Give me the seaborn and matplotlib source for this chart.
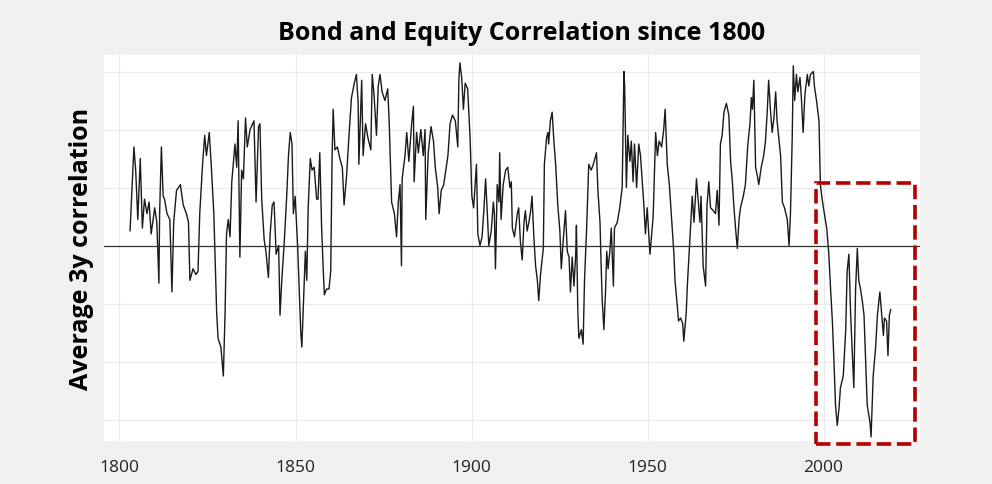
import numpy as np
import matplotlib
matplotlib.use("Agg")
import matplotlib.pyplot as plt
import matplotlib.patches as mpatches
import pandas as pd
import seaborn as sns

# values (3y rolling bond/equity correlation)
years = [
    1803.0, 1804.1, 1804.6, 1805.2, 1805.9, 1806.5, 1807.1, 1807.8, 1808.4, 1809.0,
    1810.0, 1810.6, 1811.2, 1811.4, 1811.9, 1812.4, 1812.8, 1813.5, 1814.3, 1814.9,
    1815.4, 1816.2, 1817.3, 1818.1, 1819.0, 1819.6, 1820.0, 1820.9, 1821.7, 1822.3,
    1822.8, 1823.6, 1824.2, 1824.7, 1825.5, 1826.1, 1826.8, 1827.6, 1828.0, 1828.8,
    1829.5, 1830.0, 1830.4, 1830.9, 1831.4, 1831.9, 1832.8, 1833.3, 1833.7, 1834.2,
    1834.7, 1835.2, 1835.8, 1836.3, 1837.1, 1838.2, 1838.8, 1839.5, 1839.9, 1840.4,
    1841.1, 1841.6, 1842.3, 1842.8, 1843.4, 1843.9, 1844.5, 1845.2, 1845.6, 1846.1,
    1846.8, 1847.5, 1848.0, 1848.5, 1849.0, 1849.4, 1849.9, 1850.6, 1851.1, 1851.5,
    1851.8, 1852.3, 1852.8, 1853.2, 1853.6, 1854.2, 1854.7, 1855.3, 1856.0, 1856.4,
    1856.9, 1857.4, 1857.9, 1858.2, 1858.8, 1859.5, 1860.0, 1860.4, 1860.7, 1861.2,
    1861.9, 1862.6, 1863.3, 1863.8, 1864.5, 1865.2, 1865.9, 1866.7, 1867.3, 1867.8,
    1868.0, 1868.8, 1869.2, 1869.9, 1870.6, 1871.4, 1871.8, 1872.3, 1873.0, 1873.5,
    1874.0, 1874.6, 1875.4, 1876.2, 1876.6, 1877.3, 1878.1, 1878.7, 1879.2, 1879.7,
    1880.1, 1880.3, 1881.1, 1881.6, 1882.2, 1883.0, 1883.5, 1883.7, 1884.4, 1884.9,
    1885.6, 1886.3, 1886.8, 1887.0, 1887.7, 1888.5, 1889.2, 1889.7, 1890.4, 1890.8,
    1891.4, 1892.1, 1892.7, 1893.3, 1893.9, 1894.6, 1895.4, 1896.1, 1896.4, 1896.7,
    1897.2, 1897.7, 1898.2, 1898.9, 1899.6, 1900.1, 1900.6, 1901.4, 1901.8, 1902.4,
    1903.0, 1903.5, 1904.0, 1904.5, 1904.9, 1905.6, 1906.2, 1906.5, 1906.8, 1907.3,
    1907.8, 1908.0, 1908.4, 1909.0, 1909.7, 1910.3, 1910.9, 1911.3, 1911.6, 1912.2,
    1913.0, 1913.4, 1913.9, 1914.4, 1914.9, 1915.3, 1915.8, 1916.3, 1916.8, 1917.2,
    1917.7, 1918.2, 1918.7, 1919.1, 1919.6, 1920.4, 1920.7, 1921.3, 1921.7, 1921.9,
    1922.4, 1922.9, 1923.4, 1923.9, 1924.5, 1925.1, 1925.5, 1926.0, 1926.7, 1927.2,
    1927.7, 1928.1, 1928.6, 1929.1, 1929.6, 1929.8, 1930.2, 1930.5, 1931.2, 1931.7,
    1932.1, 1932.7, 1933.3, 1934.0, 1934.6, 1935.5, 1935.9, 1936.5, 1936.8, 1937.1,
    1937.6, 1938.1, 1938.4, 1938.8, 1939.3, 1939.7, 1940.3, 1940.6, 1941.4, 1942.1,
    1942.8, 1943.3, 1943.5, 1944.0, 1944.4, 1945.0, 1945.4, 1945.9, 1946.3, 1946.9,
    1947.5, 1948.0, 1948.5, 1948.9, 1949.4, 1949.9, 1950.7, 1951.6, 1952.3, 1952.8,
    1953.3, 1954.0, 1954.6, 1955.0, 1955.6, 1956.2, 1956.9, 1957.5, 1957.8, 1958.4,
    1958.8, 1959.4, 1960.0, 1960.3, 1961.0, 1961.3, 1962.1, 1962.7, 1963.2, 1963.9,
    1964.3, 1964.9, 1965.2, 1965.8, 1966.5, 1966.9, 1967.4, 1967.9, 1968.7, 1969.3,
    1969.8, 1970.3, 1970.7, 1971.2, 1971.7, 1972.4, 1973.1, 1973.6, 1974.1, 1974.5,
    1975.0, 1975.5, 1976.0, 1976.4, 1977.2, 1977.8, 1978.5, 1979.1, 1979.5, 1979.8,
    1980.2, 1980.7, 1981.2, 1981.6, 1982.3, 1983.0, 1983.5, 1984.0, 1984.4, 1984.9,
    1985.4, 1985.9, 1986.4, 1986.8, 1987.3, 1987.8, 1988.3, 1988.9, 1989.7, 1990.2,
    1990.6, 1991.1, 1991.4, 1991.8, 1992.3, 1992.7, 1993.3, 1993.7, 1994.2, 1994.7,
    1995.4, 1995.8, 1996.3, 1997.1, 1997.4, 1998.0, 1998.7, 1999.1, 1999.6, 2000.1,
    2000.9, 2001.5, 2002.0, 2002.5, 2002.9, 2003.4, 2003.9, 2004.4, 2004.8, 2005.6,
    2006.3, 2006.7, 2007.2, 2007.7, 2008.1, 2008.6, 2009.1, 2009.6, 2010.0, 2010.5,
    2011.0, 2011.5, 2011.9, 2012.4, 2013.2, 2013.5, 2014.1, 2014.8, 2015.3, 2016.0,
    2016.4, 2017.0, 2017.3, 2017.9, 2018.3, 2018.7, 2019.1,
]
corr = [
    0.05, 0.34, 0.26, 0.09, 0.30, 0.06, 0.16, 0.11, 0.15, 0.04,
    0.13, 0.08, -0.13, 0.11, 0.34, 0.17, 0.16, 0.11, 0.09, -0.16,
    0.08, 0.19, 0.21, 0.14, 0.11, 0.08, -0.12, -0.08, -0.10, -0.09,
    0.11, 0.28, 0.38, 0.31, 0.39, 0.27, 0.11, -0.23, -0.32, -0.35,
    -0.45, -0.23, 0.04, 0.09, 0.03, 0.22, 0.35, 0.27, 0.43, -0.04,
    0.26, 0.23, 0.44, 0.34, 0.40, 0.43, 0.15, 0.41, 0.42, 0.16,
    0.02, -0.02, -0.11, 0.04, 0.14, 0.15, -0.03, 0.00, -0.24, -0.12,
    0.01, 0.17, 0.31, 0.39, 0.35, 0.11, 0.17, 0.00, -0.17, -0.30,
    -0.35, -0.18, -0.02, -0.12, 0.13, 0.30, 0.26, 0.27, 0.16, 0.16,
    0.32, 0.07, -0.09, -0.17, -0.15, -0.15, -0.09, 0.31, 0.47, 0.33,
    0.34, 0.30, 0.27, 0.14, 0.24, 0.38, 0.51, 0.56, 0.59, 0.49,
    0.28, 0.57, 0.31, 0.42, 0.37, 0.33, 0.59, 0.52, 0.38, 0.55,
    0.59, 0.53, 0.50, 0.54, 0.43, 0.15, 0.11, 0.03, 0.15, 0.21,
    -0.07, 0.23, 0.31, 0.39, 0.29, 0.42, 0.48, 0.22, 0.39, 0.32,
    0.40, 0.31, 0.40, 0.09, 0.32, 0.41, 0.36, 0.27, 0.20, 0.11,
    0.19, 0.21, 0.26, 0.31, 0.42, 0.45, 0.43, 0.34, 0.57, 0.63,
    0.58, 0.47, 0.56, 0.54, 0.37, 0.17, 0.13, 0.28, 0.04, 0.00,
    0.03, 0.12, 0.23, 0.11, 0.00, 0.05, 0.15, 0.11, -0.08, 0.21,
    0.15, 0.32, 0.09, 0.21, 0.26, 0.27, 0.20, 0.22, 0.06, 0.03,
    0.11, 0.13, 0.01, -0.05, 0.08, 0.12, 0.05, 0.08, 0.12, 0.17,
    0.03, -0.07, -0.12, -0.19, -0.10, -0.01, 0.28, 0.37, 0.39, 0.35,
    0.43, 0.46, 0.36, 0.28, 0.14, 0.05, -0.08, 0.01, 0.12, -0.02,
    -0.04, -0.16, -0.04, -0.14, -0.03, 0.07, -0.23, -0.32, -0.29, -0.34,
    -0.12, 0.06, 0.28, 0.26, 0.28, 0.32, 0.19, 0.08, -0.06, -0.18,
    -0.29, -0.15, -0.02, -0.08, -0.02, 0.06, -0.14, 0.06, 0.08, 0.13,
    0.20, 0.60, 0.55, 0.20, 0.38, 0.29, 0.36, 0.22, 0.35, 0.20,
    0.35, 0.31, 0.22, 0.15, 0.04, 0.13, -0.03, 0.10, 0.39, 0.31,
    0.36, 0.34, 0.40, 0.47, 0.28, 0.21, 0.08, -0.03, -0.12, -0.20,
    -0.26, -0.25, -0.27, -0.33, -0.23, -0.14, 0.04, 0.17, 0.08, 0.23,
    0.17, 0.08, 0.17, -0.07, -0.14, 0.14, 0.22, 0.13, 0.12, 0.11,
    0.19, 0.07, 0.35, 0.38, 0.46, 0.49, 0.45, 0.29, 0.22, 0.14,
    0.06, -0.01, 0.09, 0.13, 0.17, 0.21, 0.35, 0.42, 0.51, 0.47,
    0.57, 0.27, 0.24, 0.21, 0.27, 0.31, 0.36, 0.46, 0.57, 0.47,
    0.39, 0.44, 0.53, 0.43, 0.37, 0.31, 0.15, 0.13, 0.09, 0.00,
    0.11, 0.37, 0.62, 0.50, 0.59, 0.53, 0.58, 0.51, 0.39, 0.52,
    0.59, 0.55, 0.59, 0.60, 0.55, 0.50, 0.43, 0.21, 0.16, 0.12,
    0.06, -0.03, -0.15, -0.26, -0.38, -0.55, -0.62, -0.56, -0.49, -0.45,
    -0.29, -0.09, -0.03, -0.24, -0.35, -0.49, -0.15, -0.01, -0.12, -0.15,
    -0.19, -0.24, -0.38, -0.55, -0.61, -0.66, -0.45, -0.35, -0.24, -0.16,
    -0.22, -0.31, -0.25, -0.26, -0.38, -0.24, -0.22,
]

xticks = [1800, 1850, 1900, 1950, 2000]
yticks = [-0.6, -0.4, -0.2, 0.0, 0.2, 0.4, 0.6]

# highlighted recent period (negative correlation regime)
box_start, box_end = 1997.9, 2026.1
box_low, box_high = -0.684, 0.215

df = pd.DataFrame({"year": years, "corr": corr})

sns.set_theme(style="whitegrid")
plt.rcParams["font.family"] = ["Open Sans", "DejaVu Sans"]

fig = plt.figure(figsize=(9.92, 4.85), dpi=100, facecolor="#f0f0f0")
ax = fig.add_axes([104 / 992, 1 - 442 / 485, 816 / 992, 386 / 485])
ax.set_facecolor("white")

sns.lineplot(data=df, x="year", y="corr", ax=ax, color="#1a1a1a",
             linewidth=1.0, sort=False, estimator=None)
ax.axhline(0, color="#333333", linewidth=0.9, zorder=3)

rect = mpatches.Rectangle((box_start, box_low), box_end - box_start,
                          box_high - box_low, fill=False, edgecolor="#b40000",
                          linewidth=2.6, linestyle=(0, (4, 1.6)),
                          clip_on=False, zorder=5)
ax.add_patch(rect)

ax.set_xlim(1795.6, 2027.4)
ax.set_ylim(-0.674, 0.657)
ax.set_xticks(xticks)
ax.set_xticklabels([str(t) for t in xticks])
ax.set_yticks(yticks)
ax.set_yticklabels([])
ax.grid(True, color="#ebebeb", linewidth=0.8)
for s in ax.spines.values():
    s.set_visible(False)
ax.tick_params(axis="x", length=0, pad=13, labelsize=12.5, colors="#222222")
ax.tick_params(axis="y", length=0)
ax.set_xlabel("")
ax.set_ylabel("Average 3y correlation", fontsize=18, fontweight="bold",
              color="black", labelpad=4)

fig.text(522 / 992, 1 - 33 / 485, "Bond and Equity Correlation since 1800",
         ha="center", va="center", fontsize=18, fontweight="bold", color="black")

fig.savefig("out.png", dpi=100, facecolor=fig.get_facecolor())
